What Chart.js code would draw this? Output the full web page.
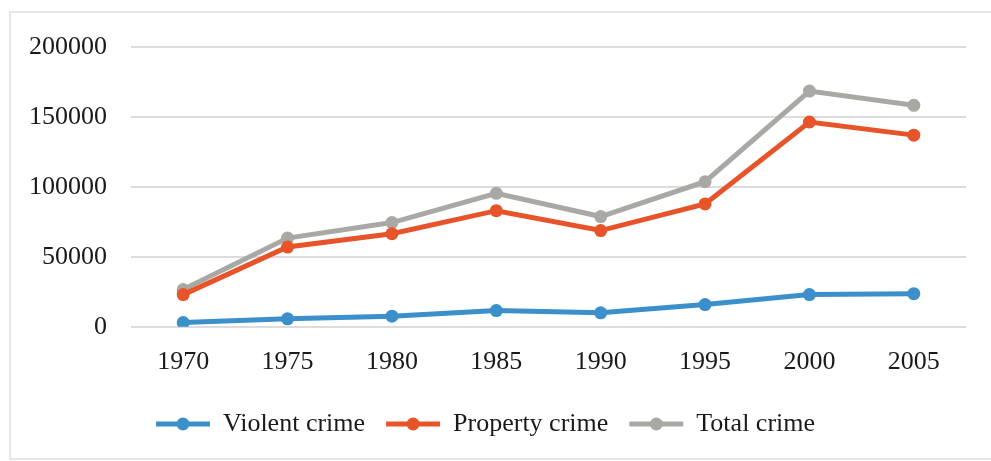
<!DOCTYPE html>
<html>
<head>
<meta charset="utf-8">
<script src="https://cdn.jsdelivr.net/npm/chart.js@4.4.1/dist/chart.umd.min.js"></script>
<style>
  html, body { margin: 0; padding: 0; background: #fff; }
  #frame {
    position: absolute; left: 9px; top: 11px; width: 990px; height: 449px;
    border: 2px solid #e6e6e6; box-sizing: border-box;
  }
  #wrap { position: absolute; left: 0; top: 0; width: 991px; height: 461px; }
</style>
</head>
<body>
<div id="frame"></div>
<div id="wrap"><canvas id="crimeChart"></canvas></div>
<script>
// Crime counts by year
const years = ['1970', '1975', '1980', '1985', '1990', '1995', '2000', '2005'];
const violentCrime = [3000, 5700, 7600, 11600, 10000, 15900, 23000, 23700];
const propertyCrime = [23000, 57000, 66500, 83000, 68800, 87800, 146400, 137000];
const totalCrime = [26600, 63400, 74500, 95400, 78800, 103700, 168500, 158300];

const BLUE = '#3b8fcb';
const ORANGE = '#e8542a';
const GRAY = '#a8a8a4';
const FONT = "'Liberation Serif', 'Times New Roman', serif";

function series(label, data, color) {
    return {
        label: label,
        data: data,
        borderColor: color,
        backgroundColor: color,
        borderWidth: 5,
        pointRadius: 6.5,
        pointBorderWidth: 0,
        pointBackgroundColor: color,
        tension: 0
    };
}

// draw a round marker on top of each legend line sample
const legendMarkers = {
    id: 'legendMarkers',
    afterDraw(chart) {
        const legend = chart.legend;
        if (!legend || !legend.legendHitBoxes) return;
        const ctx = chart.ctx;
        const boxW = legend.options.labels.boxWidth;
        legend.legendHitBoxes.forEach((box, i) => {
            const ds = chart.data.datasets[i];
            ctx.save();
            ctx.fillStyle = ds.borderColor;
            ctx.beginPath();
            ctx.arc(box.left + boxW / 2, box.top + box.height / 2, 6.5, 0, Math.PI * 2);
            ctx.fill();
            ctx.restore();
        });
    }
};

const ctx = document.getElementById('crimeChart').getContext('2d');
new Chart(ctx, {
    type: 'line',
    data: {
        labels: years,
        datasets: [
            series('Violent crime', violentCrime, BLUE),
            series('Property crime', propertyCrime, ORANGE),
            series('Total crime', totalCrime, GRAY)
        ]
    },
    options: {
        responsive: true,
        maintainAspectRatio: false,
        animation: false,
        layout: { padding: { left: 5, right: 25, top: 47, bottom: 14 } },
        plugins: {
            tooltip: { enabled: false },
            legend: {
                position: 'bottom',
                labels: {
                    boxWidth: 54,
                    boxHeight: 5,
                    padding: 21,
                    color: '#1a1a1a',
                    font: { family: FONT, size: 26 },
                    generateLabels(chart) {
                        return Chart.defaults.plugins.legend.labels.generateLabels(chart)
                            .map(item => Object.assign(item, { lineWidth: 0 }));
                    }
                }
            }
        },
        scales: {
            x: {
                offset: true,
                grid: { display: false },
                border: { display: false },
                ticks: {
                    color: '#1a1a1a',
                    padding: 12,
                    font: { family: FONT, size: 26 }
                }
            },
            y: {
                min: 0,
                max: 200000,
                grid: { color: '#dcdcdc', lineWidth: 2, drawTicks: false },
                border: { display: false },
                ticks: {
                    stepSize: 50000,
                    color: '#1a1a1a',
                    padding: 24,
                    font: { family: FONT, size: 26 },
                    callback: value => String(value)
                }
            }
        }
    },
    plugins: [legendMarkers]
});
</script>
</body>
</html>
